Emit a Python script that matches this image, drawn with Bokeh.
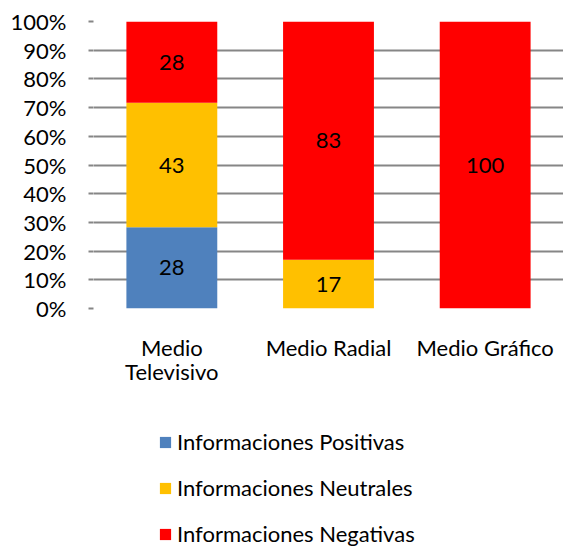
import numpy as np
from bokeh.plotting import figure
from bokeh.layouts import column
from bokeh.models import (FactorRange, Range1d, FixedTicker, NumeralTickFormatter,
                          ColumnDataSource, Legend, LegendItem)
from bokeh.core.properties import value
from bokeh.embed import file_html
from bokeh.resources import INLINE

categories = ["Medio\nTelevisivo", "Medio Radial", "Medio Gráfico"]
positivas = [28, 0, 0]
neutrales = [43, 17, 0]
negativas = [28, 83, 100]
series_names = ["Informaciones Positivas", "Informaciones Neutrales", "Informaciones Negativas"]
colors = ["#4F81BD", "#FFC000", "#FF0000"]
y_ticks = [0, 0.1, 0.2, 0.3, 0.4, 0.5, 0.6, 0.7, 0.8, 0.9, 1.0]

FONT = "Lato"
FS = "22px"
GRID = "#868686"

vals = np.array([positivas, neutrales, negativas], dtype=float)
tot = vals.sum(axis=0)
frac = vals / tot
keys = ["pos", "neu", "neg"]
data = {"cat": categories}
for k, f in zip(keys, frac):
    data[k] = f
src = ColumnDataSource(data)

p = figure(x_range=FactorRange(*categories), y_range=Range1d(0, 1),
           width=563, height=420, output_backend="svg", toolbar_location=None,
           min_border_left=93, min_border_right=0, min_border_top=21,
           min_border_bottom=112)
p.outline_line_color = None
p.background_fill_color = "white"
p.border_fill_color = "white"

renderers = p.vbar_stack(keys, x="cat", width=0.58, source=src, color=colors,
                         line_color=None)

# data labels
lx, ly, lt = [], [], []
cum = np.zeros(len(categories))
for i in range(len(keys)):
    for j, c in enumerate(categories):
        if vals[i, j] > 0:
            lx.append(c)
            ly.append(cum[j] + frac[i, j] / 2)
            lt.append(str(int(vals[i, j])))
    cum = cum + frac[i]
p.text(x=lx, y=ly, text=lt, text_align="center", text_baseline="middle",
       text_font=value(FONT), text_font_size=FS, text_color="black")

# y axis
p.yaxis.ticker = FixedTicker(ticks=y_ticks)
p.yaxis.formatter = NumeralTickFormatter(format="0%")
p.yaxis.axis_line_color = None
p.yaxis.major_tick_line_color = GRID
p.yaxis.major_tick_line_width = 2
p.yaxis.major_tick_out = 5
p.yaxis.major_tick_in = 0
p.yaxis.minor_tick_line_color = None
p.yaxis.major_label_standoff = 22
p.yaxis.major_label_text_font = FONT
p.yaxis.major_label_text_font_size = FS
p.yaxis.major_label_text_color = "black"

# x axis
p.xaxis.axis_line_color = None
p.xaxis.major_tick_line_color = None
p.xaxis.minor_tick_line_color = None
p.xaxis.major_label_standoff = 19
p.xaxis.major_label_text_font = FONT
p.xaxis.major_label_text_font_size = FS
p.xaxis.major_label_text_line_height = 0.9
p.xaxis.major_label_text_color = "black"

p.xgrid.grid_line_color = None
p.ygrid.grid_line_color = GRID
p.ygrid.grid_line_width = 2
p.ygrid.ticker = FixedTicker(ticks=y_ticks)

# legend in its own panel below (same stacked bars, kept outside its visible range)
lf = figure(width=563, height=127, output_backend="svg", toolbar_location=None,
            x_axis_type=None, y_axis_type=None, min_border=0,
            x_range=FactorRange(*categories), y_range=Range1d(2, 3))
lf.outline_line_color = None
lf.xgrid.grid_line_color = None
lf.ygrid.grid_line_color = None
leg_r = lf.vbar_stack(keys, x="cat", width=0.58, source=src, color=colors,
                      line_color=None)
items = [LegendItem(label=n, renderers=[r]) for n, r in zip(series_names, leg_r)]
legend = Legend(items=items, orientation="vertical", location=(65, 0),
                label_text_font=FONT, label_text_font_size=FS,
                label_text_color="black", glyph_width=14, glyph_height=14,
                label_height=20, spacing=19, padding=0, margin=0,
                border_line_color=None, background_fill_alpha=0,
                label_standoff=5)
lf.add_layout(legend, "center")

layout = column(p, lf, spacing=0)
open("out.html", "w").write(file_html(layout, INLINE))
